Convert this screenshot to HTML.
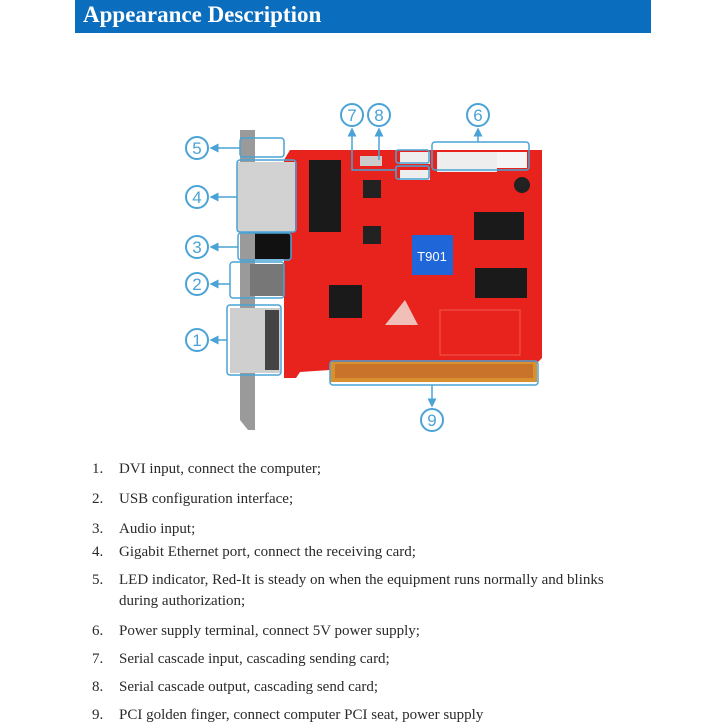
<!DOCTYPE html>
<html><head><style>
body{margin:0;width:726px;height:726px;background:#fff;position:relative;overflow:hidden;font-family:"Liberation Serif",serif}
.ban{position:absolute;left:75px;top:0;width:576px;height:33px;background:#0a6dbd}
.ban span{position:absolute;left:8px;top:2px;color:#fff;font-weight:bold;font-size:23px}
.li{position:absolute;left:92px;font-size:15px;color:#2a2a2a;line-height:21px}
.li b{font-weight:normal;display:inline-block;width:27px}
.li i{font-style:normal;display:block;padding-left:27px}
</style></head><body>
<div class="ban"><span>Appearance Description</span></div>
<svg width="726" height="726" style="position:absolute;left:0;top:0">
<defs><marker id="a" markerWidth="6" markerHeight="6" refX="5" refY="3" orient="auto"><path d="M0,0 L6,3 L0,6z" fill="#4aa3d6"/></marker></defs>
<polygon points="284,160 290,150 542,150 542,358 538,362 330,362 330,370 300,372 296,378 284,378" fill="#e8231d"/>
<rect x="330" y="362" width="207" height="20" fill="#d9902f"/>
<rect x="335" y="364" width="198" height="14" fill="#c8722a"/>
<polygon points="240,130 255,130 255,430 248,430 240,420" fill="#9a9a9a"/>
<rect x="237" y="162" width="58" height="70" fill="#d2d2d2"/>
<rect x="255" y="233" width="36" height="26" fill="#111"/>
<rect x="250" y="264" width="34" height="32" fill="#777"/>
<rect x="230" y="308" width="50" height="65" fill="#cfcfcf"/>
<rect x="265" y="310" width="14" height="60" fill="#444"/>
<rect x="309" y="160" width="32" height="72" fill="#1a1a1a"/>
<rect x="363" y="180" width="18" height="18" fill="#222"/>
<rect x="363" y="226" width="18" height="18" fill="#222"/>
<rect x="329" y="285" width="33" height="33" fill="#1a1a1a"/>
<rect x="474" y="212" width="50" height="28" fill="#1a1a1a"/>
<rect x="475" y="268" width="52" height="30" fill="#1a1a1a"/>
<rect x="412" y="235" width="41" height="40" fill="#1f66d8"/>
<text x="432" y="261" font-family="Liberation Sans" font-size="13" fill="#fff" text-anchor="middle">T901</text>
<polygon points="385,325 405,300 418,325" fill="#f0c0b8"/>
<rect x="437" y="152" width="60" height="20" fill="#eee"/>
<rect x="497" y="152" width="30" height="16" fill="#f5f5f5"/>
<rect x="400" y="152" width="30" height="12" fill="#eee"/>
<rect x="400" y="170" width="30" height="10" fill="#eee"/>
<rect x="360" y="156" width="22" height="10" fill="#ccc"/>
<circle cx="522" cy="185" r="8" fill="#222"/>
<rect x="440" y="310" width="80" height="45" fill="none" stroke="#f05a50"/>
<g fill="none" stroke="#4aa3d6" stroke-width="1.5">
<rect x="240" y="138" width="44" height="19" rx="3"/>
<rect x="237" y="160" width="59" height="72" rx="3"/>
<rect x="238" y="233" width="53" height="27" rx="3"/>
<rect x="230" y="262" width="54" height="36" rx="3"/>
<rect x="227" y="305" width="54" height="70" rx="3"/>
<rect x="432" y="142" width="97" height="28" rx="3"/>
<rect x="396" y="150" width="33" height="13" rx="2"/>
<rect x="396" y="166" width="33" height="13" rx="2"/>
<rect x="330" y="361" width="208" height="24" rx="3"/>
<path d="M240,148 H211" marker-end="url(#a)"/>
<path d="M237,197 H211" marker-end="url(#a)"/>
<path d="M238,247 H211" marker-end="url(#a)"/>
<path d="M230,284 H211" marker-end="url(#a)"/>
<path d="M227,340 H211" marker-end="url(#a)"/>
<path d="M396,170 H352 V129" marker-end="url(#a)"/>
<path d="M379,160 V129" marker-end="url(#a)"/>
<path d="M478,142 V129" marker-end="url(#a)"/>
<path d="M432,385 V406" marker-end="url(#a)"/>
</g>
<g fill="none" stroke="#4aa3d6" stroke-width="2">
<circle cx="197" cy="148" r="11"/><circle cx="197" cy="197" r="11"/><circle cx="197" cy="247" r="11"/><circle cx="197" cy="284" r="11"/><circle cx="197" cy="340" r="11"/>
<circle cx="352" cy="115" r="11"/><circle cx="379" cy="115" r="11"/><circle cx="478" cy="115" r="11"/><circle cx="432" cy="420" r="11"/>
</g>
<g font-family="Liberation Sans" font-size="17" fill="#4aa3d6" text-anchor="middle">
<text x="197" y="154">5</text><text x="197" y="203">4</text><text x="197" y="253">3</text><text x="197" y="290">2</text><text x="197" y="346">1</text>
<text x="352" y="121">7</text><text x="379" y="121">8</text><text x="478" y="121">6</text><text x="432" y="426">9</text>
</g>
</svg>
<div class="li" style="top:459px"><b>1.</b>DVI input, connect the computer;</div>
<div class="li" style="top:489px"><b>2.</b>USB configuration interface;</div>
<div class="li" style="top:519px"><b>3.</b>Audio input;</div>
<div class="li" style="top:542px"><b>4.</b>Gigabit Ethernet port, connect the receiving card;</div>
<div class="li" style="top:570px"><b>5.</b>LED indicator, Red-It is steady on when the equipment runs normally and blinks<i>during authorization;</i></div>
<div class="li" style="top:621px"><b>6.</b>Power supply terminal, connect 5V power supply;</div>
<div class="li" style="top:649px"><b>7.</b>Serial cascade input, cascading sending card;</div>
<div class="li" style="top:677px"><b>8.</b>Serial cascade output, cascading send card;</div>
<div class="li" style="top:705px"><b>9.</b>PCI golden finger, connect computer PCI seat, power supply</div>
</body></html>
